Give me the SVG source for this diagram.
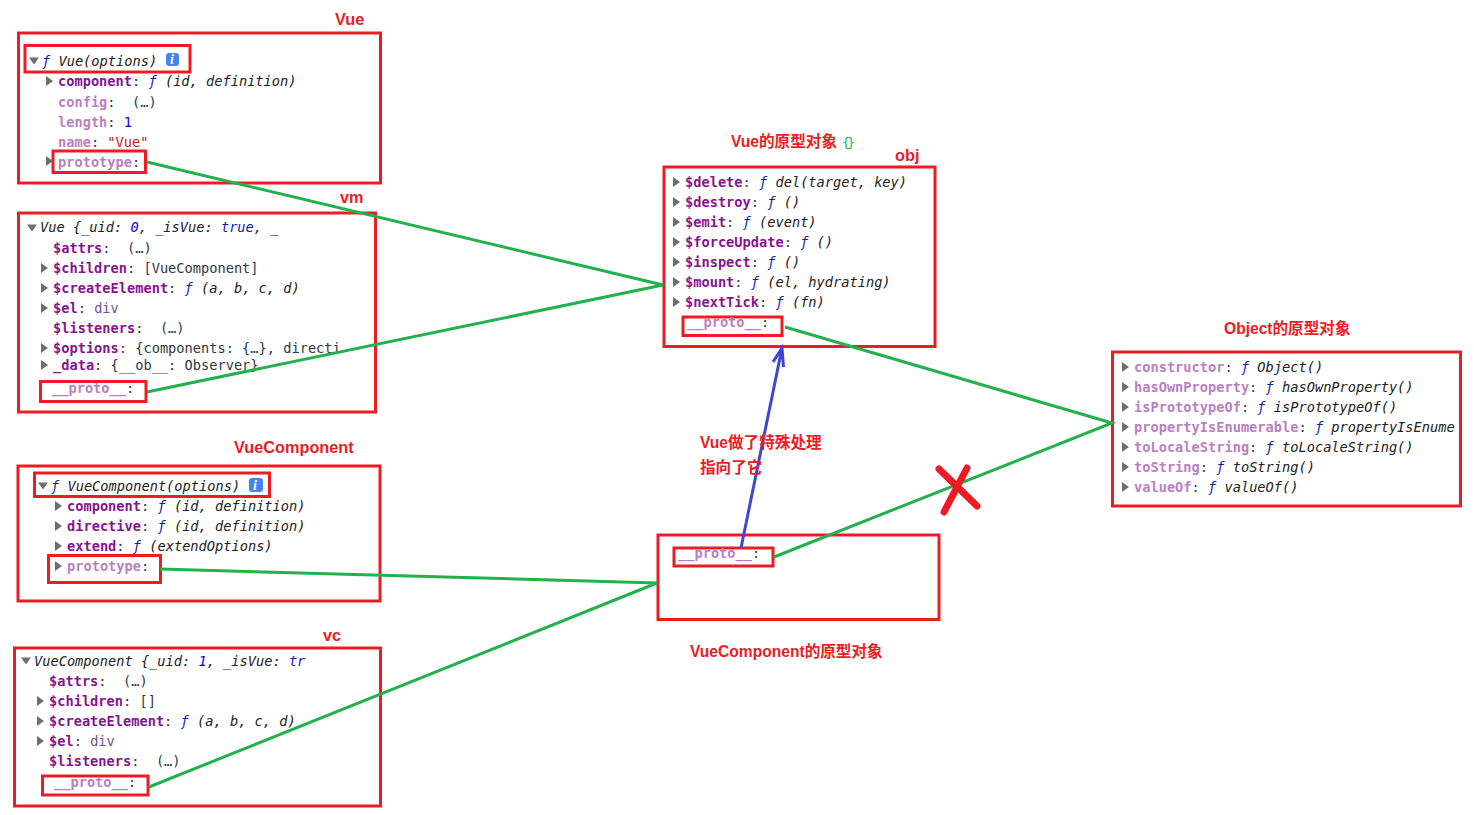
<svg xmlns="http://www.w3.org/2000/svg" width="1474" height="815" viewBox="0 0 1474 815">
<style>
text{font-family:"DejaVu Sans Mono","Liberation Mono",monospace;font-size:13.67px;fill:#303942;white-space:pre}
.k{font-weight:bold;fill:#881391}
.d{font-weight:bold;fill:#bb7fc0}
.fn{font-style:italic;fill:#222}
.f{font-style:italic;fill:#0d22aa}
.n{fill:#1c00cf}
.s{fill:#c41a16}
.el{fill:#7b4f8a}
.l{font-family:"Liberation Sans","Noto Sans CJK SC",sans-serif;font-size:16.3px;font-weight:bold;fill:#ed1c24}
.c{font-size:15.6px}
.box{fill:none;stroke:#ed1c24;stroke-width:3}
.g{fill:none;stroke:#22b14c;stroke-width:3}
.t{fill:#6e6e6e}
.i{fill:#4285f4}
.it{font-family:"Liberation Serif",serif;font-style:italic;font-weight:bold;font-size:14px;fill:#fff}
</style>
<defs>
<path id="r" class="t" d="M0 -5L7 0L0 5Z"/>
<path id="v" class="t" d="M-5 -3.500H5L0 3.500Z"/>
</defs>
<g id="vue">
<rect class="box" x="18.500" y="33" width="362" height="150"/>
<rect class="box" x="25" y="45.500" width="165" height="26.500"/>
<rect class="box" x="53" y="151" width="92.500" height="21.500"/>
<use href="#v" x="34" y="61"/>
<text x="42" y="66"><tspan class="f">ƒ</tspan><tspan class="fn"> Vue(options)</tspan></text>
<rect class="i" x="166" y="53" width="13" height="13" rx="3"/><text class="it" x="170" y="64">i</text>
<use href="#r" x="46" y="81"/>
<text x="58" y="86"><tspan class="k">component</tspan>: <tspan class="f">ƒ</tspan><tspan class="fn"> (id, definition)</tspan></text>
<text x="58" y="107"><tspan class="d">config</tspan>:  (…)</text>
<text x="58" y="127"><tspan class="d">length</tspan>: <tspan class="n">1</tspan></text>
<text x="58" y="147"><tspan class="d">name</tspan>: <tspan class="s">"Vue"</tspan></text>
<use href="#r" x="46" y="161"/>
<text x="58" y="167"><tspan class="d">prototype</tspan>:</text>
<text class="l" x="335" y="25">Vue</text>
</g>
<g id="vm">
<rect class="box" x="18.500" y="213" width="357" height="199"/>
<rect class="box" x="40.500" y="381.500" width="105.500" height="20"/>
<use href="#v" x="32" y="228"/>
<text x="40" y="232"><tspan class="fn">Vue {_uid: </tspan><tspan class="n" font-style="italic">0</tspan><tspan class="fn">, _isVue: </tspan><tspan class="f">true</tspan><tspan class="fn">, _</tspan></text>
<text x="53" y="253"><tspan class="k">$attrs</tspan>:  (…)</text>
<use href="#r" x="41" y="268"/>
<text x="53" y="273"><tspan class="k">$children</tspan>: [VueComponent]</text>
<use href="#r" x="41" y="288"/>
<text x="53" y="293"><tspan class="k">$createElement</tspan>: <tspan class="f">ƒ</tspan><tspan class="fn"> (a, b, c, d)</tspan></text>
<use href="#r" x="41" y="308"/>
<text x="53" y="313"><tspan class="k">$el</tspan>: <tspan class="el">div</tspan></text>
<text x="53" y="333"><tspan class="k">$listeners</tspan>:  (…)</text>
<use href="#r" x="41" y="348"/>
<text x="53" y="353"><tspan class="k">$options</tspan>: {components: {…}, directi</text>
<use href="#r" x="41" y="365"/>
<text x="53" y="370"><tspan class="k">_data</tspan>: {__ob__: Observer}</text>
<text x="52" y="393"><tspan class="d">__proto__</tspan>:</text>
<text class="l" x="340" y="203">vm</text>
</g>
<g id="vueComponent">
<rect class="box" x="18" y="466" width="362" height="135"/>
<rect class="box" x="34.500" y="473" width="235" height="23.500"/>
<rect class="box" x="48.500" y="555.500" width="112" height="27"/>
<use href="#v" x="43" y="486"/>
<text x="51" y="491"><tspan class="f">ƒ</tspan><tspan class="fn"> VueComponent(options)</tspan></text>
<rect class="i" x="249" y="478" width="14" height="14" rx="3"/><text class="it" x="253" y="490">i</text>
<use href="#r" x="55" y="506"/>
<text x="67" y="511"><tspan class="k">component</tspan>: <tspan class="f">ƒ</tspan><tspan class="fn"> (id, definition)</tspan></text>
<use href="#r" x="55" y="526"/>
<text x="67" y="531"><tspan class="k">directive</tspan>: <tspan class="f">ƒ</tspan><tspan class="fn"> (id, definition)</tspan></text>
<use href="#r" x="55" y="546"/>
<text x="67" y="551"><tspan class="k">extend</tspan>: <tspan class="f">ƒ</tspan><tspan class="fn"> (extendOptions)</tspan></text>
<use href="#r" x="55" y="566"/>
<text x="67" y="571"><tspan class="d">prototype</tspan>:</text>
<text class="l" x="234" y="453">VueComponent</text>
</g>
<g id="vc">
<rect class="box" x="14.500" y="648" width="366" height="158"/>
<rect class="box" x="42.500" y="776" width="105.500" height="19"/>
<use href="#v" x="26" y="661"/>
<text x="34" y="666"><tspan class="fn">VueComponent {_uid: </tspan><tspan class="n" font-style="italic">1</tspan><tspan class="fn">, _isVue: </tspan><tspan class="f">tr</tspan></text>
<text x="49" y="686"><tspan class="k">$attrs</tspan>:  (…)</text>
<use href="#r" x="37" y="701"/>
<text x="49" y="706"><tspan class="k">$children</tspan>: []</text>
<use href="#r" x="37" y="721"/>
<text x="49" y="726"><tspan class="k">$createElement</tspan>: <tspan class="f">ƒ</tspan><tspan class="fn"> (a, b, c, d)</tspan></text>
<use href="#r" x="37" y="741"/>
<text x="49" y="746"><tspan class="k">$el</tspan>: <tspan class="el">div</tspan></text>
<text x="49" y="766"><tspan class="k">$listeners</tspan>:  (…)</text>
<text x="54" y="787"><tspan class="d">__proto__</tspan>:</text>
<text class="l" x="323" y="641">vc</text>
</g>
<g id="vueProto">
<rect class="box" x="664" y="167" width="271" height="179.500"/>
<rect class="box" x="683" y="317" width="99" height="18.500"/>
<use href="#r" x="673" y="182"/>
<text x="685" y="187"><tspan class="k">$delete</tspan>: <tspan class="f">ƒ</tspan><tspan class="fn"> del(target, key)</tspan></text>
<use href="#r" x="673" y="202"/>
<text x="685" y="207"><tspan class="k">$destroy</tspan>: <tspan class="f">ƒ</tspan><tspan class="fn"> ()</tspan></text>
<use href="#r" x="673" y="222"/>
<text x="685" y="227"><tspan class="k">$emit</tspan>: <tspan class="f">ƒ</tspan><tspan class="fn"> (event)</tspan></text>
<use href="#r" x="673" y="242"/>
<text x="685" y="247"><tspan class="k">$forceUpdate</tspan>: <tspan class="f">ƒ</tspan><tspan class="fn"> ()</tspan></text>
<use href="#r" x="673" y="262"/>
<text x="685" y="267"><tspan class="k">$inspect</tspan>: <tspan class="f">ƒ</tspan><tspan class="fn"> ()</tspan></text>
<use href="#r" x="673" y="282"/>
<text x="685" y="287"><tspan class="k">$mount</tspan>: <tspan class="f">ƒ</tspan><tspan class="fn"> (el, hydrating)</tspan></text>
<use href="#r" x="673" y="302"/>
<text x="685" y="307"><tspan class="k">$nextTick</tspan>: <tspan class="f">ƒ</tspan><tspan class="fn"> (fn)</tspan></text>
<text x="687" y="327"><tspan class="d">__proto__</tspan>:</text>
<text class="l c" x="731" y="147">Vue的原型对象</text>
<text x="842" y="147" style="fill:#22b14c;font-size:13px;letter-spacing:-2.500px">{}</text>
<text class="l" x="895" y="161">obj</text>
</g>
<g id="vcProto">
<rect class="box" x="658" y="535" width="281" height="84.500"/>
<rect class="box" x="674" y="548" width="99" height="18"/>
<text x="678" y="558"><tspan class="d">__proto__</tspan>:</text>
<text class="l c" x="690" y="657">VueComponent的原型对象</text>
</g>
<g id="objectProto">
<rect class="box" x="1112.500" y="352" width="348" height="154"/>
<use href="#r" x="1122" y="367"/>
<text x="1134" y="372"><tspan class="d">constructor</tspan>: <tspan class="f">ƒ</tspan><tspan class="fn"> Object()</tspan></text>
<use href="#r" x="1122" y="387"/>
<text x="1134" y="392"><tspan class="d">hasOwnProperty</tspan>: <tspan class="f">ƒ</tspan><tspan class="fn"> hasOwnProperty()</tspan></text>
<use href="#r" x="1122" y="407"/>
<text x="1134" y="412"><tspan class="d">isPrototypeOf</tspan>: <tspan class="f">ƒ</tspan><tspan class="fn"> isPrototypeOf()</tspan></text>
<use href="#r" x="1122" y="427"/>
<text x="1134" y="432"><tspan class="d">propertyIsEnumerable</tspan>: <tspan class="f">ƒ</tspan><tspan class="fn"> propertyIsEnume</tspan></text>
<use href="#r" x="1122" y="447"/>
<text x="1134" y="452"><tspan class="d">toLocaleString</tspan>: <tspan class="f">ƒ</tspan><tspan class="fn"> toLocaleString()</tspan></text>
<use href="#r" x="1122" y="467"/>
<text x="1134" y="472"><tspan class="d">toString</tspan>: <tspan class="f">ƒ</tspan><tspan class="fn"> toString()</tspan></text>
<use href="#r" x="1122" y="487"/>
<text x="1134" y="492"><tspan class="d">valueOf</tspan>: <tspan class="f">ƒ</tspan><tspan class="fn"> valueOf()</tspan></text>
<text class="l c" x="1224" y="334">Object的原型对象</text>
</g>
<g id="connectors">
<path class="g" d="M147 162L663 285L147 392"/>
<path class="g" d="M785 327L1112 423L774 557"/>
<path class="g" d="M160 569L657 583L149 787"/>
<path d="M741 548L782 348M773 362L782 348L783.500 367" fill="none" stroke="#3f48cc" stroke-width="3"/>
<path d="M939 469L977 506M967 468L944 512" fill="none" stroke="#ed1c24" stroke-width="7" stroke-linecap="round"/>
</g>
<g id="notes">
<text class="l c" x="700" y="448">Vue做了特殊处理</text>
<text class="l c" x="700" y="473">指向了它</text>
</g>
</svg>
